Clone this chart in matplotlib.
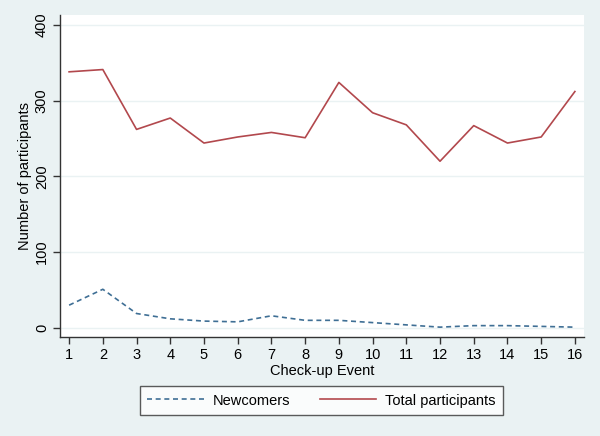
import matplotlib.pyplot as plt

events = list(range(1, 17))
newcomers = [30, 51, 19, 12, 9, 8, 16, 10, 10, 7, 4, 1, 3, 3, 2, 1]
total = [338, 341, 262, 277, 244, 252, 258, 251, 324, 284, 268, 220, 267, 244, 252, 312]
y_ticks = [0, 100, 200, 300, 400]

plt.rcParams['font.family'] = ['Liberation Sans', 'DejaVu Sans']
bg = '#eaf2f3'

fig = plt.figure(figsize=(6, 4.36), dpi=100, facecolor=bg)
ax = fig.add_axes([60 / 600, 1 - 337 / 436, 524 / 600, 322 / 436])
ax.set_facecolor('white')

ax.plot(events, newcomers, color='#3f6f95', lw=1.2, ls=(0, (3, 2.2)), label='Newcomers')
ax.plot(events, total, color='#b2484d', lw=1.2, label='Total participants')

ax.set_xlim(0.73, 16.27)
ax.set_ylim(-12, 413)
ax.set_xticks(events)
ax.set_yticks(y_ticks)
ax.set_yticklabels([str(v) for v in y_ticks], rotation=90, va='center')
ax.grid(axis='y', color=bg, lw=1)
ax.set_axisbelow(True)

for s in ['top', 'right']:
    ax.spines[s].set_visible(False)
for s in ['left', 'bottom']:
    ax.spines[s].set_color('#333333')
    ax.spines[s].set_linewidth(1)
ax.tick_params(direction='out', length=5, width=1, color='#333333',
               labelsize=10.5, labelcolor='black', pad=3)

ax.set_xlabel('Check-up Event', fontsize=10.5, labelpad=1)
ax.set_ylabel('Number of participants', fontsize=10.5, labelpad=2)

leg = fig.legend(loc='center', bbox_to_anchor=(321.5 / 600, 1 - 400.5 / 436), ncol=2,
                 frameon=True, fancybox=False, fontsize=10.5, handlelength=3.9,
                 columnspacing=2.0, borderpad=0.5, handletextpad=0.6, borderaxespad=0)
leg.get_frame().set_edgecolor('#333333')
leg.get_frame().set_linewidth(1)

fig.savefig('out.png', dpi=100, facecolor=bg)
